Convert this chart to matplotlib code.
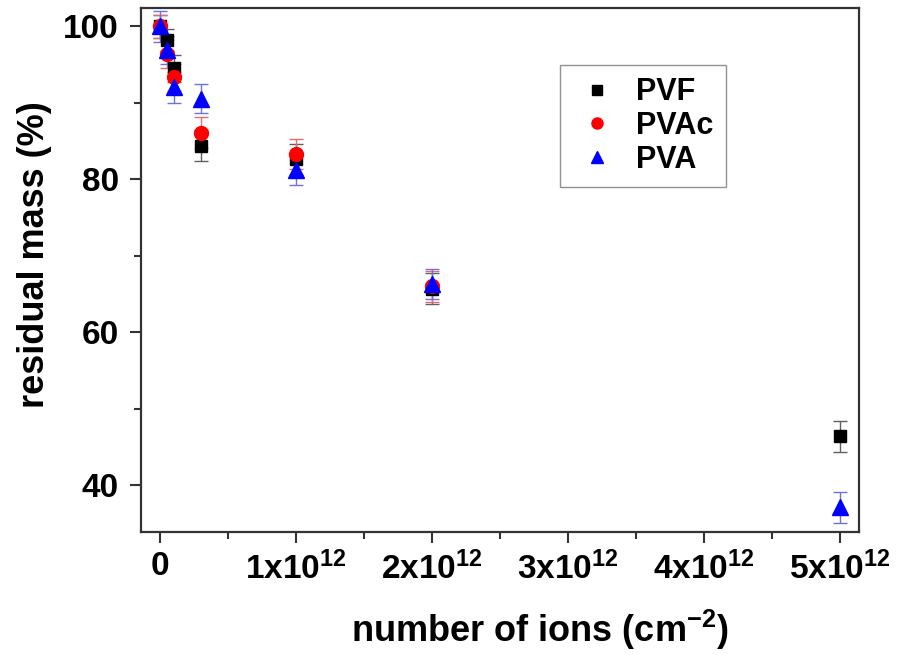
import matplotlib

matplotlib.use("Agg")
import matplotlib.pyplot as plt
from matplotlib.lines import Line2D
from matplotlib.ticker import FixedLocator, MultipleLocator

plt.rcParams["font.family"] = ["Liberation Sans", "DejaVu Sans"]
plt.rcParams["font.weight"] = "bold"
plt.rcParams["mathtext.fontset"] = "custom"
plt.rcParams["mathtext.rm"] = "Liberation Sans:bold"
plt.rcParams["mathtext.bf"] = "Liberation Sans:bold"

# fluence values (ions / cm^2)
pvf_x = [0, 0.05e12, 0.1e12, 0.3e12, 1e12, 2e12, 5e12]
pvf_y = [100, 98.2, 94.5, 84.4, 82.6, 65.7, 46.4]
pvf_err = [1.5, 1.5, 1.8, 2.0, 2.0, 2.0, 2.0]

pvac_x = [0, 0.05e12, 0.1e12, 0.3e12, 1e12, 2e12]
pvac_y = [100, 96.4, 93.3, 86.1, 83.3, 66.0]
pvac_err = [1.5, 1.8, 1.8, 2.0, 2.0, 2.0]

pva_x = [0, 0.05e12, 0.1e12, 0.3e12, 1e12, 2e12, 5e12]
pva_y = [100, 96.9, 92.0, 90.5, 81.2, 66.3, 37.1]
pva_err = [2.0, 1.8, 2.0, 1.9, 2.0, 2.0, 2.0]

xtick_vals = [0, 1e12, 2e12, 3e12, 4e12, 5e12]
xtick_labels = ["0", r"$\mathbf{1x10^{12}}$", r"$\mathbf{2x10^{12}}$",
                r"$\mathbf{3x10^{12}}$", r"$\mathbf{4x10^{12}}$",
                r"$\mathbf{5x10^{12}}$"]

fig = plt.figure(figsize=(8.99, 6.55), dpi=100)
ax = fig.add_axes([0.157, 0.188, 0.798, 0.800])

series = [
    ("PVF", pvf_x, pvf_y, pvf_err, "s", "black", "#606060", 9),
    ("PVAc", pvac_x, pvac_y, pvac_err, "o", "#ff0000", "#e07070", 10),
    ("PVA", pva_x, pva_y, pva_err, "^", "#0000ff", "#7070e0", 11),
]
handles = []
for name, xs, ys, errs, mk, col, ecol, ms in series:
    ax.errorbar(xs, ys, yerr=errs, fmt=mk, color=col, ecolor=ecol,
                markersize=ms, markeredgecolor=col, elinewidth=1.0,
                capsize=5, capthick=1.0)
    handles.append(Line2D([], [], linestyle="none", marker=mk, color=col,
                          markersize=ms * 0.8, label=name))

ax.set_xlim(-0.14e12, 5.14e12)
ax.set_ylim(33.9, 102.4)

ax.xaxis.set_major_locator(FixedLocator(xtick_vals))
ax.set_xticklabels(xtick_labels)
ax.xaxis.set_minor_locator(MultipleLocator(0.5e12))
ax.yaxis.set_major_locator(MultipleLocator(20))
ax.yaxis.set_minor_locator(MultipleLocator(10))

ax.tick_params(axis="both", which="major", length=8, width=1.5,
               direction="out", labelsize=24, color="#333333")
ax.tick_params(axis="both", which="minor", length=5, width=1.5,
               direction="out", color="#333333")
ax.tick_params(axis="x", which="major", pad=6)
ax.tick_params(axis="y", which="major", pad=8)

for sp in ax.spines.values():
    sp.set_linewidth(1.6)
    sp.set_color("#333333")

ax.set_xlabel(r"number of ions (cm$\mathbf{^{-2}}$)", fontsize=26,
              fontweight="bold")
ax.set_ylabel("residual mass (%)", fontsize=26, fontweight="bold")
ax.xaxis.set_label_coords(0.556, -0.145)
ax.yaxis.set_label_coords(-0.124, 0.53)

leg = ax.legend(handles=handles, loc="upper left",
                bbox_to_anchor=(0.584, 0.891), fancybox=False, frameon=True,
                edgecolor="#777777", fontsize=22, handlelength=1.6,
                handletextpad=0.5, borderpad=0.4, labelspacing=0.12,
                borderaxespad=0)
leg.get_frame().set_linewidth(1.0)

fig.savefig("out.png", dpi=100)
